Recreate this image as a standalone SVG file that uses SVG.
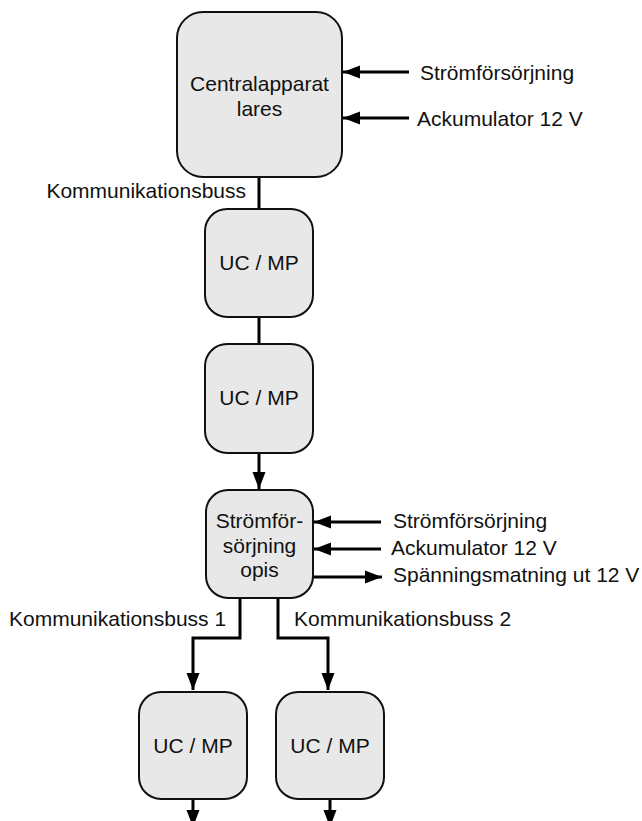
<svg xmlns="http://www.w3.org/2000/svg" width="642" height="821" viewBox="0 0 642 821">
<style>
.box{fill:#e8e8e8;stroke:#111;stroke-width:2}
.t{font-family:"Liberation Sans",Arial,sans-serif;font-size:21px;fill:#111}
.c{text-anchor:middle}
.e{text-anchor:end}
.ln{fill:none;stroke:#000;stroke-width:3}
</style>
<defs>
<marker id="ah" markerUnits="userSpaceOnUse" markerWidth="17" markerHeight="14" refX="17" refY="7" orient="auto">
<path d="M0,0.5 L17,7 L0,13.5 Z" fill="#000"/>
</marker>
</defs>
<rect width="642" height="821" fill="#fff"/>
<g id="connectors">
<path class="ln" d="M259,177 V209"/>
<path class="ln" d="M259,317 V344"/>
<path class="ln" d="M259,453 V489" marker-end="url(#ah)"/>
<path class="ln" d="M409,72 H343" marker-end="url(#ah)"/>
<path class="ln" d="M409,118 H343" marker-end="url(#ah)"/>
<path class="ln" d="M381,522 H314" marker-end="url(#ah)"/>
<path class="ln" d="M381,549 H314" marker-end="url(#ah)"/>
<path class="ln" d="M313,577 H382" marker-end="url(#ah)"/>
<path class="ln" d="M240,598 V638 H193 V690" marker-end="url(#ah)"/>
<path class="ln" d="M278,598 V638 H328 V690" marker-end="url(#ah)"/>
<path class="ln" d="M193,799 V827" marker-end="url(#ah)"/>
<path class="ln" d="M330,799 V827" marker-end="url(#ah)"/>
</g>
<g id="labels">
<text class="t" x="420" y="80">Strömförsörjning</text>
<text class="t" x="417" y="126">Ackumulator 12 V</text>
<text class="t e" x="246" y="198">Kommunikationsbuss</text>
<text class="t" x="393" y="528">Strömförsörjning</text>
<text class="t" x="391" y="555">Ackumulator 12 V</text>
<text class="t" x="393" y="582">Spänningsmatning ut 12 V</text>
<text class="t" x="9" y="626">Kommunikationsbuss 1</text>
<text class="t" x="294" y="626">Kommunikationsbuss 2</text>
</g>
<g id="central">
<rect class="box" x="177" y="12" width="165" height="165" rx="26"/>
<text class="t c" x="259.5" y="91">Centralapparat</text>
<text class="t c" x="259.5" y="116">lares</text>
</g>
<g id="uc1">
<rect class="box" x="205" y="209" width="108" height="108" rx="22"/>
<text class="t c" x="259" y="270">UC / MP</text>
</g>
<g id="uc2">
<rect class="box" x="205" y="344" width="108" height="109" rx="22"/>
<text class="t c" x="259" y="405">UC / MP</text>
</g>
<g id="power">
<rect class="box" x="206" y="490" width="107" height="108" rx="22"/>
<text class="t c" x="259.5" y="528">Strömför-</text>
<text class="t c" x="259.5" y="553">sörjning</text>
<text class="t c" x="259.5" y="577">opis</text>
</g>
<g id="uc3">
<rect class="box" x="139" y="692" width="108" height="107" rx="22"/>
<text class="t c" x="193" y="753">UC / MP</text>
</g>
<g id="uc4">
<rect class="box" x="276" y="692" width="108" height="107" rx="22"/>
<text class="t c" x="330" y="753">UC / MP</text>
</g>
</svg>
